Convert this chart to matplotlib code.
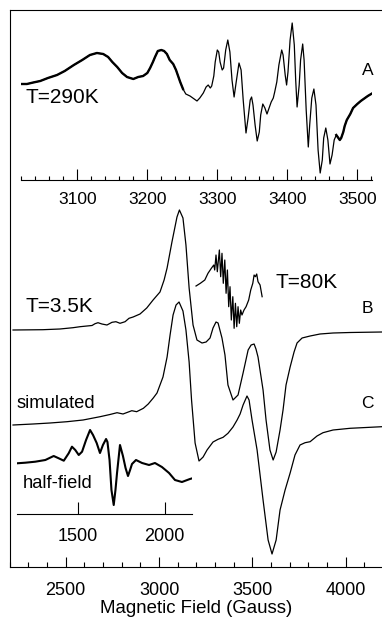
import matplotlib
matplotlib.use('Agg')
import matplotlib.pyplot as plt
from matplotlib.ticker import MultipleLocator, FixedLocator
import numpy as np

plt.rcParams['font.family'] = ['Liberation Sans', 'DejaVu Sans']

# ---------------- data ----------------
# (A) room temperature spectrum, T = 290 K (field in Gauss, arbitrary intensity)
A_field = [3019, 3028, 3037, 3047, 3058, 3071, 3082, 3095, 3107, 3118,
           3128, 3137, 3144, 3150, 3157, 3164, 3171, 3180, 3187, 3194,
           3200, 3204, 3208, 3211, 3215, 3220, 3224, 3228, 3232, 3237,
           3241, 3244, 3247, 3251, 3255, 3261, 3267, 3271, 3275, 3280,
           3284, 3287, 3290, 3292, 3295, 3297, 3300, 3302, 3304, 3307,
           3309, 3312, 3315, 3318, 3321, 3324, 3327, 3331, 3334, 3337,
           3341, 3344, 3347, 3349, 3351, 3354, 3357, 3360, 3362, 3365,
           3368, 3371, 3374, 3377, 3380, 3382, 3385, 3388, 3392, 3394,
           3397, 3399, 3401, 3404, 3407, 3410, 3412, 3414, 3417, 3419,
           3422, 3424, 3427, 3430, 3432, 3435, 3438, 3441, 3444, 3447,
           3450, 3452, 3455, 3458, 3461, 3464, 3467, 3470, 3472, 3475,
           3477, 3480, 3482, 3485, 3490, 3494, 3500, 3505, 3511, 3515,
           3521]
A_int = [96, 96, 97.5, 99, 102, 105, 109, 115, 120, 125,
         127, 126, 123, 118, 113, 107, 103, 101, 103, 104,
         107, 112, 118, 123, 129, 130, 129, 126, 120, 116,
         110, 104, 98, 91, 86, 84, 81, 79, 82, 87,
         93, 95, 92, 94, 104, 118, 130, 128, 118, 110,
         112, 130, 140, 128, 100, 83, 98, 117, 110, 80,
         47, 62, 80, 83, 75, 55, 39, 48, 65, 76,
         72, 66, 72, 78, 82, 88, 98, 115, 130, 125,
         105, 95, 108, 140, 157, 135, 100, 73, 95, 120,
         136, 120, 70, 33, 55, 82, 91, 75, 30, 7,
         20, 42, 52, 40, 16, 25, 40, 45, 43, 40,
         42, 48, 54, 60, 66, 72, 76, 79, 82, 84,
         86.5]
A_ticks = [3100, 3200, 3300, 3400, 3500]

# (B) T = 3.5 K spectrum
B_field = [2218, 2378, 2469, 2539, 2577, 2614, 2641, 2657, 2673, 2694,
           2721, 2748, 2769, 2791, 2818, 2839, 2861, 2898, 2934, 2968,
           3005, 3027, 3043, 3069, 3096, 3109, 3128, 3144, 3161, 3182,
           3203, 3230, 3252, 3273, 3289, 3305, 3316, 3337, 3353, 3369,
           3396, 3423, 3450, 3477, 3493, 3509, 3519, 3530, 3557, 3573,
           3594, 3611, 3627, 3648, 3664, 3680, 3702, 3723, 3739, 3766,
           3809, 3862, 3932, 4023, 4194]
B_int = [0, 0.3, 1, 2.3, 3.3, 4, 4.5, 6.3, 7.3, 6,
         5, 7.7, 8.3, 6.7, 8.3, 11.7, 13, 16, 22, 30,
         38, 50, 62, 88, 113, 120, 112, 85, 42, 5,
         -10, -13, -12, -8, 2, 8, 7, -8, -25, -55,
         -70, -65, -43, -20, -15, -14, -19, -27, -60, -90,
         -120, -130, -122, -100, -80, -55, -37, -22, -13, -8,
         -6, -4, -3, -2.5, -2]

# (C) simulated spectrum
C_field = [2218, 2325, 2416, 2507, 2593, 2684, 2737, 2775, 2807, 2854,
           2880, 2916, 2942, 2969, 2989, 3021, 3043, 3059, 3075, 3091,
           3107, 3128, 3144, 3161, 3174, 3193, 3214, 3236, 3257, 3289,
           3316, 3343, 3369, 3396, 3418, 3434, 3450, 3471, 3482, 3498,
           3525, 3557, 3584, 3605, 3627, 3648, 3675, 3702, 3728, 3755,
           3782, 3809, 3846, 3878, 3932, 4023, 4194]
C_int = [0, 1, 2, 3.3, 5, 8.3, 10.5, 12.3, 11, 14.3,
         13.3, 16.7, 21, 27, 32, 48, 68, 90, 110, 120,
         123, 114, 95, 63, 25, -18, -36, -32, -25, -17,
         -14.3, -12.3, -8.3, -2, 5, 11, 20, 29, 25, 5,
         -25, -75, -115, -129, -115, -85, -65, -48, -30, -20,
         -17.7, -16.7, -11, -7.7, -5, -3.3, -1.7]

# T = 80 K inset spectrum (placed on the main field axis)
K80_field = [3198, 3221, 3245, 3262, 3280, 3293, 3298, 3305, 3312, 3323,
             3330, 3337, 3344, 3352, 3359, 3366, 3373, 3380, 3387, 3395,
             3402, 3409, 3416, 3423, 3430, 3437, 3444, 3455, 3466, 3480,
             3491, 3502, 3509, 3516, 3523, 3530, 3541, 3552]
K80_int = [0, 2.7, 6, 12.7, 17.7, 21, 16, 31, 14.3, 36,
           9.3, 32.7, 2.7, 26, -7.3, 16, -20.7, -0.7, -34, -10.7,
           -42.3, -17.3, -40.7, -20.7, -37.3, -24, -29, -24, -20.7, -14,
           -4, 2.7, 11, 9.3, 12, 4.3, 1, -10.7]

# half-field spectrum
HF_field = [1151, 1199, 1256, 1314, 1362, 1391, 1420, 1448, 1467, 1486,
            1506, 1525, 1548, 1571, 1588, 1609, 1628, 1645, 1663, 1671,
            1683, 1694, 1707, 1717, 1726, 1743, 1760, 1775, 1789, 1801,
            1812, 1835, 1870, 1910, 1944, 1984, 2025, 2059, 2099, 2145,
            2155]
HF_int = [50.7, 51.3, 52.3, 54, 58, 55.7, 53.3, 60.7, 67.3, 64,
          59, 62.3, 74, 84, 79, 71, 61, 69, 75, 72,
          54, 24, 9, 24, 41, 69, 58, 46, 38, 44,
          50, 54, 51, 49, 51, 47, 41, 34, 32, 35,
          35.5]
HF_ticks = [1500, 2000]

main_ticks = [2500, 3000, 3500, 4000]

# ---------------- layout ----------------
W, H = 382, 621
fig = plt.figure(figsize=(W / 100, H / 100), dpi=100)


def fx(px):
    return px / W


def fy(py):
    return 1 - py / H


LW_AX = 0.8
FS_TICK = 13

# main axes
ax = fig.add_axes([fx(9.5), fy(567), fx(382) - fx(9.5), fy(10) - fy(567)])
ax.set_xlim(2199, 4194)
ax.set_ylim(0, 557)
ax.spines['right'].set_visible(False)
for s in ('left', 'top', 'bottom'):
    ax.spines[s].set_linewidth(LW_AX)
ax.set_yticks([])
ax.xaxis.set_major_locator(FixedLocator(main_ticks))
ax.xaxis.set_minor_locator(MultipleLocator(100))
ax.tick_params(axis='x', which='major', direction='in', length=7.2, width=LW_AX,
               labelsize=FS_TICK, pad=10.5)
ax.tick_params(axis='x', which='minor', direction='in', length=3.6, width=LW_AX)
ax.set_xlabel('Magnetic Field (Gauss)', fontsize=13.4, labelpad=1)

B_off, C_off, K80_off = 237, 142, 281
ax.plot(B_field, np.array(B_int) + B_off, color='black', lw=0.9)
ax.plot(C_field, np.array(C_int) + C_off, color='black', lw=0.9)
ax.plot(K80_field, np.array(K80_int) + K80_off, color='black', lw=0.9)

# inset A
axA = fig.add_axes([fx(20.7), fy(180), fx(371.7) - fx(20.7), fy(15) - fy(180)])
axA.set_facecolor('none')
axA.set_xlim(3019.1, 3520.6)
axA.set_ylim(0, 165)
for s in ('left', 'top', 'right'):
    axA.spines[s].set_visible(False)
axA.spines['bottom'].set_linewidth(LW_AX)
axA.set_yticks([])
axA.xaxis.set_major_locator(FixedLocator(A_ticks))
axA.xaxis.set_minor_locator(MultipleLocator(20))
axA.tick_params(axis='x', which='major', direction='in', length=7.7, width=LW_AX,
                labelsize=12.5, pad=9)
axA.tick_params(axis='x', which='minor', direction='in', length=3, width=LW_AX)
A_f = np.array(A_field)
A_i = np.array(A_int)
axA.plot(A_f, A_i, color='black', lw=0.9)
noisy_l = A_f <= 3251
noisy_r = A_f >= 3470
axA.plot(A_f[noisy_l], A_i[noisy_l], color='black', lw=1.7)
axA.plot(A_f[noisy_r], A_i[noisy_r], color='black', lw=1.7)

# half-field inset
axH = fig.add_axes([fx(17), fy(514), fx(192) - fx(17), fy(420) - fy(514)])
axH.set_facecolor('none')
axH.set_xlim(1151.1, 2156.9)
axH.set_ylim(0, 94)
for s in ('left', 'top', 'right'):
    axH.spines[s].set_visible(False)
axH.spines['bottom'].set_linewidth(LW_AX)
axH.set_yticks([])
axH.xaxis.set_major_locator(FixedLocator(HF_ticks))
axH.tick_params(axis='x', which='major', direction='in', length=8.6, width=LW_AX,
                labelsize=FS_TICK, pad=10)
axH.plot(HF_field, HF_int, color='black', lw=1.5)

# labels
def label(x, y, s, fs, ha='left'):
    fig.text(fx(x), fy(y), s, fontsize=fs, ha=ha, va='baseline')


label(25, 103, 'T=290K', 15)
label(367.5, 75, 'A', 12.5, ha='center')
label(25, 311.7, 'T=3.5K', 15)
label(275, 288.3, 'T=80K', 15)
label(367.5, 313.3, 'B', 12.5, ha='center')
label(17, 408.3, 'simulated', 13.2)
label(367.5, 408.3, 'C', 12.5, ha='center')
label(23, 488.3, 'half-field', 13.2)

fig.savefig('out.png', dpi=100)
